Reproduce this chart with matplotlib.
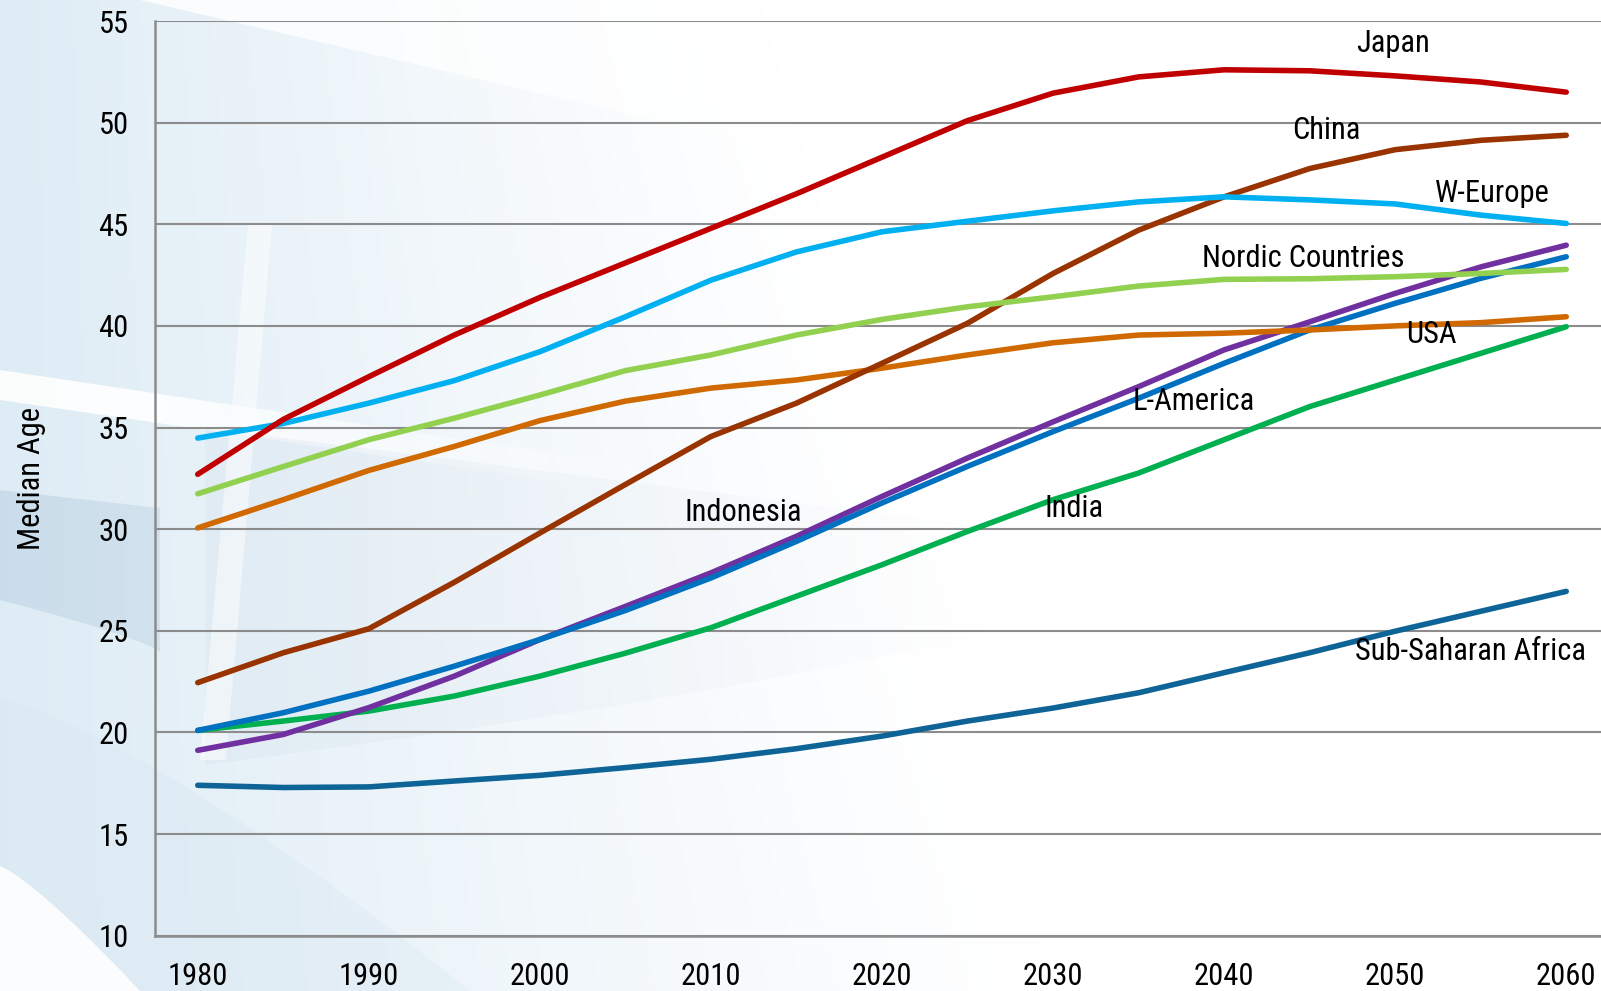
import numpy as np
import matplotlib
matplotlib.use("Agg")
import matplotlib.pyplot as plt
from matplotlib import font_manager as fm
from matplotlib.patches import Polygon

# pick a narrow sans face if one is installed
installed = {(f.name, f.stretch) for f in fm.fontManager.ttflist}
names = {f.name for f in fm.fontManager.ttflist}
font_kw = {"family": "Liberation Sans"}
for name in ("Liberation Sans Narrow", "Arial Narrow", "Roboto Condensed",
             "Open Sans Condensed", "Noto Sans Condensed"):
    if name in names:
        font_kw = {"family": name}
        break
else:
    for name in ("DejaVu Sans", "Noto Sans", "Roboto", "Open Sans"):
        if (name, "condensed") in installed or (name, "semi-condensed") in installed:
            st = "condensed" if (name, "condensed") in installed else "semi-condensed"
            font_kw = {"family": name, "stretch": st}
            break

plt.rcParams['font.family'] = [font_kw["family"], 'DejaVu Sans']
if "stretch" in font_kw:
    plt.rcParams['font.stretch'] = font_kw["stretch"]
narrow = font_kw["family"] != "Liberation Sans"

years = list(range(1980, 2061, 5))

japan = [32.7, 35.4, 37.5, 39.55, 41.4, 43.1, 44.8, 46.5, 48.3, 50.1,
         51.45, 52.25, 52.6, 52.55, 52.3, 52.0, 51.5]
china = [22.45, 23.92, 25.1, 27.39, 29.81, 32.2, 34.56, 36.2, 38.16, 40.13,
         42.58, 44.71, 46.35, 47.74, 48.67, 49.13, 49.38]
w_europe = [34.48, 35.2, 36.2, 37.31, 38.73, 40.45, 42.25, 43.64, 44.63, 45.15,
            45.66, 46.1, 46.35, 46.2, 46.0, 45.45, 45.04]
nordic = [31.74, 33.08, 34.4, 35.46, 36.6, 37.8, 38.57, 39.55, 40.32, 40.94,
          41.43, 41.96, 42.29, 42.32, 42.42, 42.58, 42.78]
usa = [30.06, 31.45, 32.89, 34.07, 35.34, 36.3, 36.94, 37.34, 37.92, 38.57,
       39.17, 39.55, 39.64, 39.8, 40.0, 40.16, 40.45]
indonesia = [19.12, 19.9, 21.22, 22.77, 24.57, 26.2, 27.85, 29.65, 31.61, 33.5,
             35.28, 37.01, 38.82, 40.2, 41.6, 42.9, 43.97]
l_america = [20.1, 20.97, 22.03, 23.26, 24.57, 26.0, 27.6, 29.4, 31.29, 33.09,
             34.8, 36.44, 38.16, 39.8, 41.11, 42.34, 43.4]
india = [20.1, 20.56, 21.05, 21.79, 22.77, 23.9, 25.15, 26.7, 28.25, 29.89,
         31.45, 32.76, 34.4, 36.03, 37.34, 38.65, 39.96]
ss_africa = [17.4, 17.29, 17.32, 17.61, 17.89, 18.27, 18.68, 19.2, 19.82, 20.56,
             21.2, 21.95, 22.94, 23.92, 24.98, 25.96, 26.94]

# (values, colour, label, label x, label y), in drawing order
series = [
    (ss_africa, "#0e6496", "Sub-Saharan Africa", 2054.4, 24.0),
    (india, "#00b050", "India", 2031.2, 31.0),
    (indonesia, "#7030a0", "Indonesia", 2011.9, 30.8),
    (l_america, "#0070c0", "L-America", 2038.2, 36.3),
    (usa, "#d06a00", "USA", 2052.1, 39.6),
    (china, "#993300", "China", 2046.0, 49.6),
    (nordic, "#92d050", "Nordic Countries", 2044.6, 43.3),
    (w_europe, "#00b0f0", "W-Europe", 2055.7, 46.5),
    (japan, "#c00000", "Japan", 2049.9, 53.9),
]

W, H = 1601, 991
fig = plt.figure(figsize=(W / 100, H / 100), dpi=100)
fig.patch.set_facecolor("white")

# decorative backdrop, drawn in pixel coordinates
bg = fig.add_axes([0, 0, 1, 1], zorder=-5)
bg.set_xlim(0, W)
bg.set_ylim(H, 0)
bg.axis("off")

xx, yy = np.meshgrid(np.linspace(0, W, 400), np.linspace(0, H, 250))
fade = np.clip(1 - xx / (760 + 0.3 * yy), 0, 1) ** 1.2
base = np.array([0.87, 0.925, 0.962])
img = 1 - fade[..., None] * (1 - base)
bg.imshow(img, extent=(0, W, H, 0), aspect="auto", zorder=0)


def soft_patch(pts, rgb, a0, a1, x0, x1, z=2):
    # polygon filled with a colour whose opacity fades from x0 to x1
    poly = Polygon(pts, closed=True, fc="none", ec="none")
    bg.add_patch(poly)
    gx = np.linspace(0, W, 500)
    t = np.clip((gx - x0) / (x1 - x0), 0, 1)
    rgba = np.zeros((2, gx.size, 4))
    rgba[..., :3] = rgb
    rgba[..., 3] = a0 + (a1 - a0) * t
    im = bg.imshow(rgba, extent=(0, W, H, 0), aspect="auto", zorder=z)
    im.set_clip_path(poly)


# white wedge across the top
soft_patch([(140, 0), (1601, 0), (1601, 300), (1100, 215), (620, 112)],
           (1, 1, 1), 0.85, 0.6, 150, 900, z=1)
# thin white diagonal band on the left
soft_patch([(0, 370), (720, 478), (720, 505), (0, 400)],
           (1, 1, 1), 0.9, 0.0, 150, 720, z=1)

s = np.linspace(0, 1, 40)
# darker swoosh left of the axis
swoosh = [(0, 490), (160, 508), (160, 652)] + \
         [(160 * (1 - u), 652 - 52 * u ** 0.8) for u in s]
soft_patch(swoosh, (0.72, 0.81, 0.88), 0.5, 0.4, 0, 160)
# faint shaded region inside the plot
inner = [(205, 428), (1150, 548), (1150, 560)] + \
        [(1150 - 945 * u, 560 + 205 * u ** 0.6) for u in s]
soft_patch(inner, (0.84, 0.89, 0.93), 0.35, 0.0, 205, 1000)
# slanted white stripe
soft_patch([(248, 225), (272, 225), (226, 760), (200, 760)],
           (1, 1, 1), 0.5, 0.5, 0, W, z=3)

# light band and white corner at the bottom left
band = [(0, 700)] + [(470 * u, 700 + 291 * u ** 1.3) for u in s] + \
       [(0, H)]
soft_patch(band, (0.86, 0.915, 0.955), 0.6, 0.4, 0, 470, z=3)
corner = [(0, 866)] + [(140 * u, 866 + 125 * u ** 1.2) for u in s] + [(0, H)]
soft_patch(corner, (1, 1, 1), 0.9, 0.9, 0, W, z=4)

ax = fig.add_axes([155 / W, (H - 935.7) / H, 1454 / W, 914.7 / H])
ax.set_facecolor("none")

lab_size = 22 if narrow else 19
tick_size = 22 if narrow else 20

for vals, color, label, lx, ly in series:
    ax.plot(years, vals, color=color, lw=4.0, solid_capstyle="round",
            solid_joinstyle="round")
    ax.text(lx, ly, label, fontsize=lab_size, ha="center", va="center", color="black")

ax.set_xlim(1977.5, 2062.5)
ax.set_ylim(10, 55)
ax.set_xticks(range(1980, 2061, 10))
ax.set_yticks(range(10, 56, 5))
ax.tick_params(axis="both", length=0, labelsize=tick_size, pad=19)
ax.yaxis.grid(True, color="#8c8c8c", lw=1.5)
ax.set_axisbelow(True)

for side in ("top", "right"):
    ax.spines[side].set_visible(False)
for side in ("left", "bottom"):
    ax.spines[side].set_color("#8c8c8c")
    ax.spines[side].set_linewidth(1.8)

ax.set_ylabel("Median Age", fontsize=tick_size, labelpad=38)

fig.savefig("out.png", dpi=100)
